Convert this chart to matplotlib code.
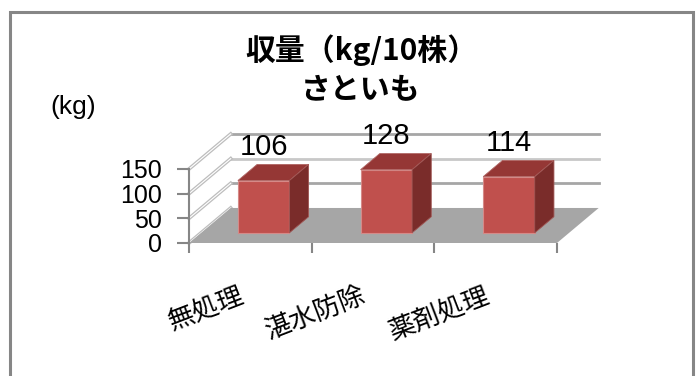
import matplotlib
matplotlib.use("Agg")
import matplotlib.pyplot as plt
from matplotlib.patches import Polygon, Rectangle

categories = ["無処理", "湛水防除", "薬剤処理"]
values = [106, 128, 114]
y_ticks = [0, 50, 100, 150]
title_1 = "収量（kg/10株）"
title_2 = "さといも"
unit_label = "(kg)"

NUM_FONT = "Liberation Sans"
JP_FONT = "Noto Sans CJK JP"

# excel-ish colours
FRONT = "#c0504d"
TOP = "#953735"
SIDE = "#7a2c2a"
FLOOR = "#a6a6a6"
AXIS = "#868686"

# fake 3d depth (data units) and bar placement inside a category
DX, DY = 0.34, 71
B0, B1 = 0.29, 0.75
BAR_L, BAR_W = 0.30, 0.42

fig = plt.figure(figsize=(6.97, 3.76), dpi=100)
ax = fig.add_axes([189 / 697, 133 / 376, 368 / 697, 74 / 376])
ax.set_xlim(0, len(categories))
ax.set_ylim(0, 150)
ax.patch.set_alpha(0)

n = len(categories)

# floor
ax.add_patch(Polygon([(0, 0), (n, 0), (n + DX, DY), (DX, DY)], closed=True,
                     fc=FLOOR, ec="none", clip_on=False, zorder=1))

# back wall gridlines
for v, col in zip(y_ticks[1:], ["#a6a6a6", "#c8c8c8", "#a6a6a6"]):
    ax.plot([DX, n + DX], [v + DY, v + DY], color=col, lw=2, clip_on=False, zorder=0.5)

# side wall lines
for v in y_ticks:
    ax.plot([0, DX], [v, v + DY], color="#bdbdbd", lw=2.6, clip_on=False, zorder=0.6)
    ax.plot([0, DX], [v, v + DY], color="white", lw=0.8, clip_on=False, zorder=0.7)

# bars
d = B1 - B0
for i, v in enumerate(values):
    x0 = i + BAR_L + B0 * DX
    y0 = B0 * DY
    ax.bar(x0, v, width=BAR_W, bottom=y0, align="edge", color=FRONT,
           edgecolor="#d58a88", lw=0.8, zorder=3, clip_on=False)
    top = [(x0, y0 + v), (x0 + BAR_W, y0 + v),
           (x0 + BAR_W + d * DX, y0 + v + d * DY), (x0 + d * DX, y0 + v + d * DY)]
    side = [(x0 + BAR_W, y0), (x0 + BAR_W + d * DX, y0 + d * DY),
            (x0 + BAR_W + d * DX, y0 + v + d * DY), (x0 + BAR_W, y0 + v)]
    ax.add_patch(Polygon(top, closed=True, fc=TOP, ec="#b06664", lw=0.6, zorder=3, clip_on=False))
    ax.add_patch(Polygon(side, closed=True, fc=SIDE, ec="#a05654", lw=0.6, zorder=3, clip_on=False))
    ax.annotate(str(v), xy=(x0 + BAR_W / 2, y0 + v), xytext=(0, 24),
                textcoords="offset points", ha="center", va="center",
                fontsize=21, family=NUM_FONT, zorder=5)

# axes styling
for s in ["top", "right", "bottom"]:
    ax.spines[s].set_visible(False)
ax.spines["left"].set_color(AXIS)
ax.spines["left"].set_linewidth(1.5)
ax.set_yticks(y_ticks)
ax.set_yticklabels([str(t) for t in y_ticks], family=NUM_FONT, fontsize=18)
ax.tick_params(axis="y", length=8.6, width=1.5, color=AXIS, pad=11)
ax.set_xticks(range(n + 1))
ax.set_xticklabels([""] * (n + 1))
ax.tick_params(axis="x", length=7, width=1.5, color=AXIS)

for i, cat in enumerate(categories):
    ax.annotate(cat, xy=(i + 0.5, 0), xytext=(-2, -28), textcoords="offset points",
                ha="right", va="top", rotation=21, fontsize=19, family=JP_FONT)

fig.text(361 / 697, 1 - 50 / 376, title_1, ha="center", va="center",
         fontsize=21.5, fontweight="bold", family=JP_FONT)
fig.text(361 / 697, 1 - 90 / 376, title_2, ha="center", va="center",
         fontsize=21.5, fontweight="bold", family=JP_FONT)
fig.text(73 / 697, 1 - 107 / 376, unit_label, ha="center", va="center",
         fontsize=19, family=NUM_FONT)

# chart border
fig.add_artist(Rectangle((10 / 697, -0.1), 683 / 697, 1.1 - 12 / 376,
                         transform=fig.transFigure, fill=False, ec=AXIS, lw=2.2))

fig.savefig("out.png", dpi=100, facecolor="white")
